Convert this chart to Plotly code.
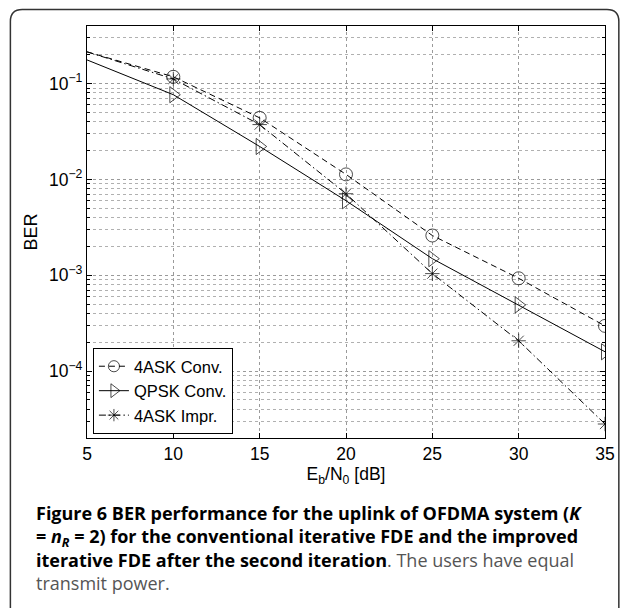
import plotly.graph_objects as go
import numpy as np

snr = [5, 10, 15, 20, 25, 30, 35]
ask_conv = [0.215, 0.118, 0.044, 0.0113, 0.0026, 0.00093, 0.000296]
qpsk_conv = [0.177, 0.0767, 0.0221, 0.0060, 0.00149, 0.00049, 0.000159]
ask_impr = [0.215, 0.112, 0.0374, 0.0071, 0.00104, 0.000207, 0.000028]
names = ["4ASK Conv.", "QPSK Conv.", "4ASK Impr."]

W, H = 627, 608
L, R, T, B = 87, 16, 26, 170
pw, ph = W - L - R, H - T - B

def px(x):
    return (x - L) / pw

def py(y):
    return (H - B - y) / ph

fig = go.Figure()
styles = [
    (ask_conv, "circle-open", "6px,4px", 13),
    (qpsk_conv, "triangle-right-open", "solid", 14),
    (ask_impr, "asterisk-open", "7px,3px,1.5px,3px", 12),
]
for (vals, sym, dash, s), nm in zip(styles, names):
    fig.add_trace(go.Scatter(
        x=snr, y=vals, name=nm, mode="lines+markers",
        line=dict(color="black", width=1, dash=dash),
        marker=dict(symbol=sym, size=[0] + [s] * (len(snr) - 1),
                    color="black", line=dict(color="black", width=1)),
    ))

font = "Liberation Sans, Arial, sans-serif"
ytv = [1e-4, 1e-3, 1e-2, 1e-1]
ytt = ["10<sup>−4</sup>", "10<sup>−3</sup>", "10<sup>−2</sup>", "10<sup>−1</sup>"]
minor_vals = [m * 10.0 ** e for e in range(-5, 0) for m in range(2, 10)]

fig.update_layout(
    width=W, height=H,
    margin=dict(l=L, r=R, t=T, b=B),
    paper_bgcolor="white", plot_bgcolor="white",
    font=dict(family=font, size=17, color="black"),
    showlegend=True,
    legend=dict(x=px(93), y=py(434), xanchor="left", yanchor="bottom",
                bgcolor="white", bordercolor="black", borderwidth=1,
                font=dict(size=16.5, family=font), tracegroupgap=0,
                itemwidth=30),
    xaxis=dict(
        range=[5, 35], tickvals=[5, 10, 15, 20, 25, 30, 35],
        showgrid=True, gridcolor="#9a9a9a", griddash="dot", gridwidth=1,
        showline=True, linecolor="black", linewidth=1.2, mirror="ticks",
        ticks="inside", ticklen=5, tickcolor="black",
        zeroline=False,
        title=dict(text="E<sub>b</sub>/N<sub>0</sub> [dB]", standoff=2,
                   font=dict(size=17.5)),
        tickfont=dict(size=17.5),
    ),
    yaxis=dict(
        type="log", range=[np.log10(2e-5), np.log10(0.4)],
        tickvals=ytv, ticktext=ytt,
        showgrid=True, gridcolor="#9a9a9a", griddash="dot", gridwidth=1,
        showline=True, linecolor="black", linewidth=1.2, mirror="ticks",
        ticks="inside", ticklen=5, tickcolor="black",
        title=dict(text="BER", standoff=6, font=dict(size=18)),
        tickfont=dict(size=17.5),
        minor=dict(tickvals=minor_vals, ticks="inside", ticklen=3,
                   tickcolor="black", showgrid=True, gridcolor="#b0b0b0",
                   griddash="dot", gridwidth=1),
    ),
)

# outer rounded frame
x0, x1, y0, y1 = px(9.5), px(625), py(9.5), py(612)
rx, ry = 12 / pw, 12 / ph
path = (f"M {x0},{y1} L {x0},{y0 - ry} Q {x0},{y0} {x0 + rx},{y0} "
        f"L {x1 - rx},{y0} Q {x1},{y0} {x1},{y0 - ry} L {x1},{y1}")
fig.add_shape(type="path", path=path, xref="paper", yref="paper",
              line=dict(color="#333333", width=1.5), layer="above")

cap_font = "Open Sans, Noto Sans, sans-serif"
caption = "<br>".join([
    "<b>Figure 6</b> <b>BER performance for the uplink of OFDMA system (<i>K</i></b>",
    "<b>= <i>n</i><sub><i>R</i></sub> = 2) for the conventional iterative FDE and the improved</b>",
    "<b>iterative FDE after the second iteration</b><span style='color:#555555'>. The users have equal</span>",
    "<span style='color:#555555'>transmit power.</span>",
])
fig.add_annotation(text=caption, x=px(33), y=py(498.5), xref="paper", yref="paper",
                   xanchor="left", yanchor="top", align="left", showarrow=False,
                   font=dict(family=cap_font, size=18, color="black"))

fig.write_html("out.html")
